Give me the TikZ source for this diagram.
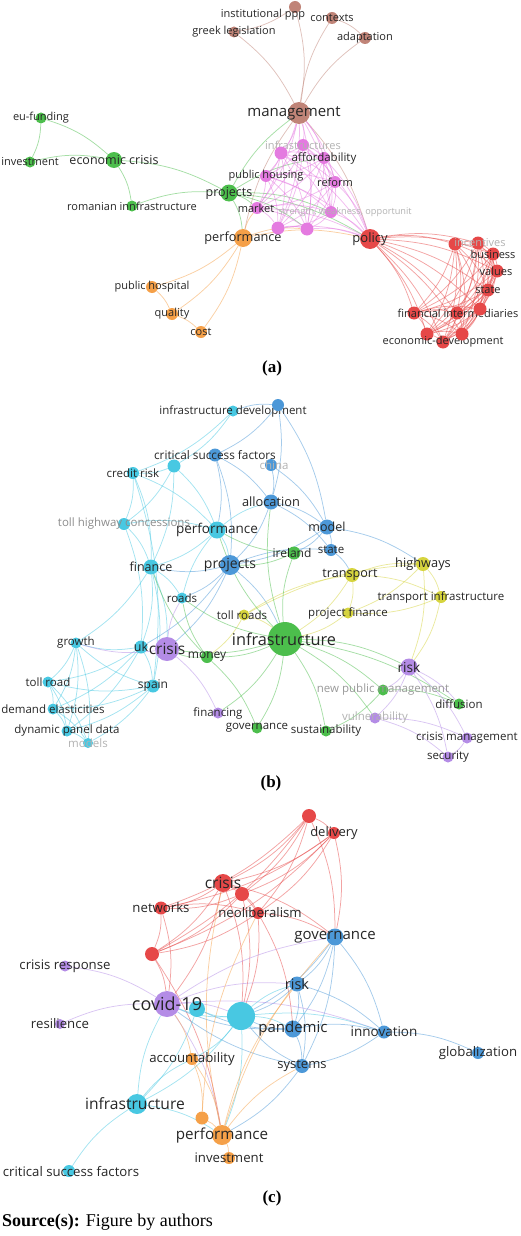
\documentclass[tikz,border=0pt]{standalone}
\usepackage{fontspec}
\setmainfont{Open Sans}
\newfontfamily\capfont{Liberation Serif}
\usetikzlibrary{backgrounds}

\definecolor{cbrn}{RGB}{192,132,120}
\definecolor{cgrn}{RGB}{76,190,76}
\definecolor{corg}{RGB}{245,160,72}
\definecolor{cpnk}{RGB}{228,122,224}
\definecolor{cred}{RGB}{230,72,72}
\definecolor{ccyn}{RGB}{72,200,226}
\definecolor{cblu}{RGB}{76,152,216}
\definecolor{cylw}{RGB}{214,212,62}
\definecolor{cprp}{RGB}{180,140,230}

\tikzset{
  bub/.style={circle, inner sep=0pt, fill=#1},
  lab/.style={font=\fontsize{#1}{#1}\selectfont, text=black!85, inner sep=0pt},
  lab/.default=11,
  faint/.style={lab=#1, text=black!30},
  faint/.default=11,
  lnk/.style={draw=#1, line width=0.75pt, draw opacity=0.5, bend left=12},
  panelcap/.style={font=\capfont\bfseries\fontsize{17}{17}\selectfont, inner sep=0pt},
}

\begin{document}
\begin{tikzpicture}[x=1pt, y=-1pt]
\useasboundingbox (0,0) rectangle (520,1236);

% ---- (a) ----
\node[bub=cbrn, minimum size=12pt, label={[lab, xshift=-32pt, yshift=-8pt]center:institutional ppp}] (ainst) at (295,7) {};
\node[bub=cbrn, minimum size=11pt, label={[lab]center:greek legislation}] (agrk) at (234,32) {};
\node[bub=cbrn, minimum size=12pt, label={[lab]center:contexts}] (actx) at (332,18) {};
\node[bub=cbrn, minimum size=12pt, label={[lab]center:adaptation}] (aadp) at (365,38) {};
\node[bub=cbrn, minimum size=22pt, label={[lab=15, xshift=-5pt]center:management}] (amgmt) at (299,113) {};
\node[bub=cgrn, minimum size=11pt, label={[lab]center:eu-funding}] (aeu) at (41,118) {};
\node[bub=cgrn, minimum size=11pt, label={[lab]center:investment}] (ainv) at (30,162) {};
\node[bub=cgrn, minimum size=16pt, label={[lab=12.5]center:economic crisis}] (aecr) at (114,160) {};
\node[bub=cgrn, minimum size=17pt, label={[lab=12.5]center:projects}] (aproj) at (229,193) {};
\node[bub=cgrn, minimum size=11pt, label={[lab]center:romanian innfrastructure}] (arom) at (132,206) {};
\node[bub=corg, minimum size=18pt, label={[lab=12.7]center:performance}] (aperf) at (243,238) {};
\node[bub=corg, minimum size=12pt, label={[lab]center:public hospital}] (ahosp) at (152,287) {};
\node[bub=corg, minimum size=12pt, label={[lab]center:quality}] (aqual) at (172,314) {};
\node[bub=corg, minimum size=12pt, label={[lab]center:cost}] (acost) at (201,332) {};
\node[bub=cpnk, minimum size=12pt, label={[faint]center:infrastructures}] (apinf) at (303,145) {};
\node[bub=cpnk, minimum size=13pt] (apin2) at (281,153) {};
\node[bub=cpnk, minimum size=12pt, label={[lab=11.5]center:affordability}] (apaff) at (324,158) {};
\node[bub=cpnk, minimum size=12pt, label={[lab]center:public housing}] (appho) at (266,176) {};
\node[bub=cpnk, minimum size=12pt, label={[lab]center:reform}] (apref) at (335,182) {};
\node[bub=cpnk, minimum size=12pt, label={[lab, xshift=-1pt]center:market}] (apmkt) at (257,208) {};
\node[bub=cpnk, minimum size=12pt, label={[faint=9.2, xshift=14pt]center:{strength, weakness, opportunit}}] (apswt) at (331,212) {};
\node[bub=cpnk, minimum size=13pt] (apq1) at (278,228) {};
\node[bub=cpnk, minimum size=13pt] (apq2) at (307,229) {};
\node[bub=cred, minimum size=20pt, label={[lab=13]center:policy}] (apol) at (370,239) {};
\node[bub=cred, minimum size=13pt] (ar1) at (455,244) {};
\node[bub=cred, minimum size=13pt, label={[faint, xshift=2pt]center:incentives}] (ar2) at (478,243) {};
\node[bub=cred, minimum size=13pt, label={[lab]center:business}] (abus) at (493,254) {};
\node[bub=cred, minimum size=13pt, label={[lab, xshift=-1pt]center:values}] (aval) at (497,271) {};
\node[bub=cred, minimum size=13pt, label={[lab]center:state}] (asta) at (488,290) {};
\node[bub=cred, minimum size=13pt] (afi1) at (414,313) {};
\node[bub=cred, minimum size=13pt, label={[lab, xshift=1pt]center:financial intermediaries}] (afi2) at (457,313) {};
\node[bub=cred, minimum size=13pt] (afi3) at (480,309) {};
\node[bub=cred, minimum size=13pt] (aed1) at (427,334) {};
\node[bub=cred, minimum size=13pt, label={[lab]center:economic-development}] (aed2) at (443,342) {};
\node[bub=cred, minimum size=13pt] (aed3) at (462,334) {};
\node[panelcap] (capa) at (272,368) {(a)};

% ---- (b) ----
\node[bub=ccyn, minimum size=11pt, label={[lab=11.5]center:infrastructure development}] (bidev) at (233,411) {};
\node[bub=cblu, minimum size=12pt] (bb1) at (278,405) {};
\node[bub=ccyn, minimum size=13pt] (bcsf) at (174,466) {};
\node[bub=cblu, minimum size=13pt, label={[lab=11.8]center:critical success factors}] (bcsfb) at (215,455) {};
\node[bub=cblu, minimum size=12pt, label={[faint=11.5, xshift=3pt]center:china}] (bchn) at (271,465) {};
\node[bub=ccyn, minimum size=12pt, label={[lab=11.5]center:credit risk}] (bcrd) at (133,473) {};
\node[bub=ccyn, minimum size=12pt, label={[lab=11.5, text=black!45]center:toll highway concessions}] (bthc) at (124,524) {};
\node[bub=ccyn, minimum size=17pt, label={[lab=13.5]center:performance}] (bperf) at (217,530) {};
\node[bub=ccyn, minimum size=15pt, label={[lab=12.5]center:finance}] (bfin) at (151,567) {};
\node[bub=cblu, minimum size=20pt, label={[lab=14]center:projects}] (bproj) at (230,565) {};
\node[bub=cblu, minimum size=15pt, label={[lab=12.8]center:allocation}] (ball) at (271,502) {};
\node[bub=cblu, minimum size=15pt, label={[lab=12.5]center:model}] (bmod) at (327,527) {};
\node[bub=cgrn, minimum size=13pt, label={[lab=12, xshift=-2pt]center:ireland}] (birl) at (294,553) {};
\node[bub=cblu, minimum size=12pt, label={[lab=11.5]center:state}] (bsta) at (331,550) {};
\node[bub=cylw, minimum size=14pt, label={[lab=12.6, xshift=-2pt]center:transport}] (btra) at (352,575) {};
\node[bub=cylw, minimum size=14pt, label={[lab=12.8]center:highways}] (bhwy) at (423,564) {};
\node[bub=cylw, minimum size=12pt, label={[lab=11.5]center:transport infrastructure}] (btin) at (441,597) {};
\node[bub=cylw, minimum size=11pt, label={[lab=11.5]center:project finance}] (bpf) at (348,613) {};
\node[bub=cylw, minimum size=11pt, label={[lab=11.5, xshift=-2pt]center:toll roads}] (btrd) at (244,615) {};
\node[bub=ccyn, minimum size=11pt, label={[lab=11.5]center:roads}] (broa) at (182,598) {};
\node[bub=cgrn, minimum size=34pt, label={[lab=16.3, xshift=-1pt]center:infrastructure}] (binf) at (285,639) {};
\node[bub=ccyn, minimum size=13pt, label={[lab=12.5]center:uk}] (buk) at (141,647) {};
\node[bub=cprp, minimum size=24pt, label={[lab=15.5]center:crisis}] (bcri) at (167,649) {};
\node[bub=cgrn, minimum size=12pt, label={[lab=12]center:money}] (bmon) at (207,657) {};
\node[bub=ccyn, minimum size=11pt, label={[lab=11.5]center:growth}] (bgro) at (76,643) {};
\node[bub=ccyn, minimum size=11pt, label={[lab=11.5]center:toll road}] (btol) at (48,682) {};
\node[bub=ccyn, minimum size=13pt, label={[lab=12]center:spain}] (bspa) at (153,686) {};
\node[bub=ccyn, minimum size=11pt, label={[lab=11.5]center:demand elasticities}] (bdem) at (53,709) {};
\node[bub=ccyn, minimum size=11pt, label={[lab=11.5]center:dynamic panel data}] (bdyn) at (67,731) {};
\node[bub=ccyn, minimum size=10pt, label={[faint=11.5]center:models}] (bmdl) at (88,743) {};
\node[bub=cprp, minimum size=11pt, label={[lab=11.5]center:financing}] (bfng) at (218,713) {};
\node[bub=cgrn, minimum size=11pt, label={[lab=11.5]center:governance}] (bgov) at (257,728) {};
\node[bub=cgrn, minimum size=11pt, label={[lab=11.5]center:sustainability}] (bsus) at (326,731) {};
\node[bub=cprp, minimum size=17pt, label={[lab=13.7]center:risk}] (brsk) at (409,667) {};
\node[bub=cgrn, minimum size=11pt, label={[lab=11.5, text=black!40]center:new public management}] (bnpm) at (383,690) {};
\node[bub=cgrn, minimum size=11pt, label={[lab=11.5]center:diffusion}] (bdif) at (459,704) {};
\node[bub=cprp, minimum size=11pt, label={[faint=11.5]center:vulnerability}] (bvul) at (375,718) {};
\node[bub=cprp, minimum size=11pt, label={[lab=11.5]center:crisis management}] (bcmg) at (467,738) {};
\node[bub=cprp, minimum size=11pt, label={[lab=11.5]center:security}] (bsec) at (448,757) {};
\node[panelcap] (capb) at (271,783) {(b)};

% ---- (c) ----
\node[bub=cred, minimum size=14pt] (crt) at (309,816) {};
\node[bub=cred, minimum size=12pt, label={[lab=13]center:delivery}] (cdel) at (334,833) {};
\node[bub=cred, minimum size=14pt] (cr2) at (242,894) {};
\node[bub=cred, minimum size=18pt, label={[lab=15.5]center:crisis}] (ccri) at (223,883) {};
\node[bub=cred, minimum size=13pt, label={[lab=13.2]center:networks}] (cnet) at (161,908) {};
\node[bub=cred, minimum size=12pt, label={[lab=13.2, xshift=2pt]center:neoliberalism}] (cneo) at (258,913) {};
\node[bub=cred, minimum size=14pt] (cr3) at (152,954) {};
\node[bub=cblu, minimum size=17pt, label={[lab=15]center:governance}] (cgov) at (335,937) {};
\node[bub=cprp, minimum size=11pt, label={[lab=13.2]center:crisis response}] (ccrr) at (65,966) {};
\node[bub=ccyn, minimum size=16pt] (cc2) at (197,1009) {};
\node[bub=ccyn, minimum size=28pt] (cbig) at (241,1016) {};
\node[bub=cprp, minimum size=26pt, label={[lab=18]center:covid-19}] (ccov) at (167,1004) {};
\node[bub=cprp, minimum size=10pt, label={[lab=13.2]center:resilience}] (cres) at (60,1024) {};
\node[bub=cblu, minimum size=15pt, label={[lab=14.5]center:risk}] (crsk) at (297,984) {};
\node[bub=cblu, minimum size=17pt, label={[lab=15]center:pandemic}] (cpan) at (293,1029) {};
\node[bub=cblu, minimum size=13pt, label={[lab=13.5]center:innovation}] (cinn) at (384,1032) {};
\node[bub=cblu, minimum size=12pt, label={[lab=13.2]center:globalization}] (cglo) at (478,1053) {};
\node[bub=cblu, minimum size=14pt, label={[lab=13]center:systems}] (csys) at (302,1066) {};
\node[bub=corg, minimum size=12pt, label={[lab=13.2]center:accountability}] (cacc) at (192,1059) {};
\node[bub=ccyn, minimum size=20pt, label={[lab=15.6, xshift=-2pt]center:infrastructure}] (cinf) at (137,1104) {};
\node[bub=corg, minimum size=13pt] (co2) at (202,1118) {};
\node[bub=corg, minimum size=20pt, label={[lab=15.2]center:performance}] (cperf) at (222,1135) {};
\node[bub=corg, minimum size=12pt, label={[lab=13.2]center:investment}] (cinv) at (229,1158) {};
\node[bub=ccyn, minimum size=12pt, label={[lab=13.2, xshift=2pt]center:critical success factors}] (ccsf) at (69,1171) {};
\node[panelcap] (capc) at (272,1198) {(c)};

\node[anchor=west, inner sep=0pt, font=\capfont\fontsize{18}{18}\selectfont] (src) at (2,1222) {\textbf{Source(s):} Figure by authors};

\begin{scope}[on background layer]
% links (a)
\foreach \a/\b in {ainst/amgmt, ainst/agrk, agrk/amgmt, amgmt/actx, amgmt/aadp, actx/aadp, amgmt/apol, aperf/amgmt}
  \draw[lnk=cbrn] (\a) to (\b);
\foreach \a/\b in {aeu/ainv, aeu/aecr, ainv/aecr, aecr/aproj, aecr/arom, arom/aproj, aproj/amgmt, aproj/apol, aproj/apswt, aproj/apmkt, aproj/aperf, aproj/apq2, aproj/apaff}
  \draw[lnk=cgrn] (\a) to (\b);
\foreach \a/\b in {aperf/ahosp, aperf/aqual, aperf/acost, ahosp/aqual, aqual/acost, aperf/apol, aperf/apmkt, aperf/apq2}
  \draw[lnk=corg] (\a) to (\b);
\foreach \a [count=\i] in {apinf,apin2,apaff,appho,apref,apmkt,apswt,apq1,apq2} {
  \draw[lnk=cpnk] (amgmt) to (\a);
  \draw[lnk=cpnk] (\a) to (apol);
  \foreach \b [count=\j] in {apinf,apin2,apaff,appho,apref,apmkt,apswt,apq1,apq2} {
    \ifnum\i<\j \draw[lnk=cpnk] (\a) to (\b); \fi
  }
}
\foreach \a [count=\i] in {ar1,ar2,abus,aval,asta,afi1,afi2,afi3,aed1,aed2,aed3} {
  \draw[lnk=cred] (apol) to (\a);
  \foreach \b [count=\j] in {ar1,ar2,abus,aval,asta,afi1,afi2,afi3,aed1,aed2,aed3} {
    \ifnum\i<\j \draw[lnk=cred] (\a) to (\b); \fi
  }
}

% links (b)
\foreach \a/\b in {bidev/bcsf, bidev/bcrd, bcsf/bcrd, bcrd/bthc, bcrd/bperf, bcrd/bfin, bcsf/bperf, bcsf/bthc, bcsf/bfin, bthc/bperf, bthc/bfin, bthc/buk, bperf/bfin, bperf/bproj, bperf/ball, bfin/buk, bfin/broa, bfin/bspa, bfin/bgro, bfin/bcri, buk/bgro, buk/btol, buk/bdem, buk/bdyn, buk/bspa, bspa/bgro, bspa/btol, bspa/bdyn, bspa/bdem, bspa/bmdl, bgro/btol, bgro/bdem, bgro/bdyn, bgro/bmdl, btol/bdem, btol/bdyn, btol/bmdl, bdem/bdyn, bdem/bmdl, bdyn/bmdl, broa/bperf, bcrd/bspa}
  \draw[lnk=ccyn] (\a) to (\b);
\foreach \a/\b in {bb1/ball, bidev/bb1, bb1/bcsfb, bcsfb/ball, bcsfb/bproj, bcsfb/bperf, bchn/ball, bchn/bmod, ball/bmod, ball/bproj, ball/bsta, bmod/bproj, bmod/bsta, bmod/birl, bmod/bhwy, bproj/binf, bproj/bcri, bproj/bfin, bproj/broa, bproj/buk, bproj/bsta, bsta/btra, bb1/bmod}
  \draw[lnk=cblu] (\a) to (\b);
\foreach \a/\b in {btra/bhwy, btra/btin, btra/bpf, btra/binf, bhwy/btin, bhwy/bpf, bhwy/brsk, btin/bpf, btin/brsk, bpf/binf, btrd/binf, btrd/btra, btrd/bhwy, btrd/bmon}
  \draw[lnk=cylw] (\a) to (\b);
\foreach \a/\b in {binf/birl, binf/bmon, binf/bgov, binf/bsus, binf/bnpm, binf/bdif, binf/bfng, binf/bcri, binf/bperf, binf/ball, binf/broa, binf/brsk, binf/bvul, bmon/bcri, bmon/bgov, bmon/broa, birl/bperf, birl/bproj, bnpm/bdif, bnpm/bsus, bmon/bfin}
  \draw[lnk=cgrn] (\a) to (\b);
\foreach \a/\b in {brsk/bcmg, brsk/bsec, brsk/bnpm, brsk/bvul, brsk/bdif, bvul/bsec, bvul/bcmg, bcri/bfng, bcri/broa, bcri/bgro, bcmg/bsec}
  \draw[lnk=cprp] (\a) to (\b);

% links (c)
\foreach \a [count=\i] in {crt,cdel,ccri,cr2,cnet,cneo,cr3} {
  \foreach \b [count=\j] in {crt,cdel,ccri,cr2,cnet,cneo,cr3} {
    \ifnum\i<\j \draw[lnk=cred] (\a) to (\b); \fi
  }
}
\foreach \a/\b in {crt/cgov, cdel/cgov, cneo/cgov, ccri/cgov, ccri/ccov, cnet/ccov, cr3/ccov, ccri/cbig, cneo/cbig, cr2/cbig, cr3/cperf, cneo/cpan}
  \draw[lnk=cred] (\a) to (\b);
\foreach \a/\b in {cgov/crsk, cgov/cpan, cgov/csys, cgov/cbig, cgov/cinn, crsk/cpan, crsk/csys, crsk/cinn, crsk/cbig, cpan/csys, cpan/cinn, cpan/ccov, cpan/cbig, cinn/cglo, cinn/csys, csys/cbig, csys/ccov, csys/cperf, cpan/cc2}
  \draw[lnk=cblu] (\a) to (\b);
\foreach \a/\b in {ccrr/ccov, cres/ccov, ccov/cbig, ccov/crsk, ccov/cgov, ccov/cinn, ccov/cperf}
  \draw[lnk=cprp] (\a) to (\b);
\foreach \a/\b in {cbig/cc2, cbig/ccov, cbig/cinf, cbig/cacc, cbig/cperf, cc2/cinf, ccsf/cinf, cinf/ccov, cinf/cperf, cinf/cacc, cbig/crsk, cbig/cpan, cbig/cinn}
  \draw[lnk=ccyn] (\a) to (\b);
\foreach \a/\b in {cacc/co2, cacc/cperf, ccov/cacc, co2/cperf, cperf/cinv, cperf/ccri, cperf/crsk, cperf/cgov, co2/cneo, cperf/csys}
  \draw[lnk=corg] (\a) to (\b);
\end{scope}
\end{tikzpicture}
\end{document}
